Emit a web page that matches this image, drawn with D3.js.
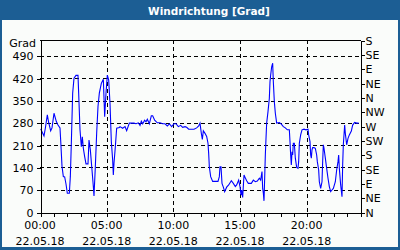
<!DOCTYPE html>
<html>
<head>
<meta charset="utf-8">
<script src="https://cdn.jsdelivr.net/npm/d3@7"></script>
<style>
body { margin: 0; }
svg { display: block; font-family: "DejaVu Sans", sans-serif; }
</style>
</head>
<body>
<div id="chart"></div>
<script>
// Messzeit in Stunden (22.05.18)
var stunden = [0.05,0.15,0.3,0.4,0.55,0.65,0.8,0.9,1.05,1.225,1.35,1.5,1.55,1.65,1.75,1.85,1.95,2.05,2.2,2.275,
    2.35,2.45,2.55,2.7,2.85,2.9,3.0,3.1,3.175,3.25,3.35,3.45,3.6,3.675,3.775,3.9,4.0,4.05,4.15,4.25,
    4.35,4.45,4.6,4.75,4.85,4.95,5.05,5.15,5.25,5.35,5.45,5.5,5.55,5.65,5.75,5.95,
    6.0,6.2,6.375,6.5,6.7,6.875,7.05,7.2,7.375,7.5,7.6,7.7,7.85,7.95,8.05,8.2,8.35,8.45,8.6,8.8,
    9.0,9.2,9.375,9.55,9.7,9.875,10.05,10.2,10.375,10.55,10.7,10.875,11.0,11.15,11.35,11.55,11.75,11.9,12.0,
    12.1,12.175,12.25,12.375,12.5,12.6,12.65,12.7,12.8,12.95,13.15,13.35,13.45,13.5,13.575,13.65,13.75,13.85,
    14.0,14.15,14.35,14.5,14.65,14.75,14.9,15.0,15.075,15.125,15.2,15.3,15.4,15.5,15.625,
    15.7,15.85,16.0,16.15,16.3,16.45,16.55,16.65,16.7,16.75,16.8,16.85,16.9,16.95,17.0,17.1,17.2,17.25,
    17.3,17.375,17.45,17.5,17.575,17.65,17.75,17.95,18.1,18.25,18.4,18.55,18.7,18.75,18.8,18.85,18.9,18.95,
    19.0,19.075,19.15,19.25,19.35,19.4,19.45,19.55,19.65,19.8,19.95,20.1,20.15,20.25,20.3,20.35,20.4,20.45,
    20.55,20.65,20.75,20.8,20.9,20.95,21.05,21.15,21.2,21.25,21.3,21.4,21.5,21.6,21.7,21.8,21.9,22.0,
    22.15,22.25,22.35,22.4,22.45,22.55,22.65,22.7,22.75,22.85,22.9,23.0,23.1,23.2,23.35,23.45,23.6,23.75,23.9];

// Windrichtung in Grad
var grad = [261,252,239,263,305,281,255,264,310,284,273,264,226,144,111,110,88,59,59,111,
    216,373,420,429,429,373,258,205,236,200,174,151,151,226,195,132,80,50,142,247,
    331,373,404,417,299,373,430,415,341,221,163,116,153,205,263,265,
    268,263,268,255,279,279,279,277,280,272,285,277,288,283,291,277,302,302,288,280,
    280,277,277,270,277,268,277,277,268,272,266,268,266,260,260,260,264,270,279,
    247,228,255,247,237,216,184,142,111,96,96,96,111,142,142,90,78,64,
    78,85,98,90,80,85,100,80,53,69,46,116,107,98,90,
    90,90,100,95,97,106,100,127,74,60,35,106,179,231,279,315,357,409,
    430,456,467,409,346,310,279,281,276,268,264,258,258,221,179,148,189,179,
    216,216,169,140,137,158,216,242,258,260,258,260,242,221,179,169,195,202,
    202,200,179,158,132,95,74,95,158,211,200,169,137,106,80,64,69,74,
    95,132,158,179,137,85,48,148,211,273,247,211,231,242,254,273,281,279,279];

var gradTicks = [0, 70, 140, 210, 280, 350, 420, 490];
var zeitTicks = [0, 5, 10, 15, 20];
var zeitLabels = ["00:00", "05:00", "10:00", "15:00", "20:00"];
var datumLabel = "22.05.18";
var richtungen = ["N","NE","E","SE","S","SW","W","NW","N","NE","E","SE","S"];

var width = 400,
    height = 250;
var pLeft = 40, pRight = 360, pTop = 40, pBottom = 212;

var svg = d3.select("#chart").append("svg")
    .attr("width", width)
    .attr("height", height);

// Rahmen und Titelleiste
svg.append("rect")
    .attr("width", width).attr("height", height)
    .attr("fill", "#1c5e94");
svg.append("rect")
    .attr("x", 2).attr("y", 20)
    .attr("width", width - 4).attr("height", height - 23)
    .attr("fill", "#fafcfa");
svg.append("text")
    .attr("x", 209).attr("y", 15)
    .attr("text-anchor", "middle")
    .attr("fill", "white")
    .style("font-weight", "bold")
    .style("font-size", "10.5px")
    .text("Windrichtung [Grad]");

var x = d3.scaleLinear().domain([0, 24]).range([pLeft, pRight]);
var y = d3.scaleLinear().domain([0, 540]).range([pBottom, pTop]);

// Gitter
var grid = svg.append("g")
    .attr("stroke", "black")
    .attr("stroke-dasharray", "4,3")
    .attr("shape-rendering", "crispEdges");
grid.selectAll("line.h")
    .data(gradTicks.filter(function(d) { return d > 0; }))
    .enter().append("line")
    .attr("class", "h")
    .attr("x1", pLeft).attr("x2", pRight)
    .attr("y1", function(d) { return Math.round(y(d)) + 0.5; })
    .attr("y2", function(d) { return Math.round(y(d)) + 0.5; });
grid.selectAll("line.v")
    .data(zeitTicks.filter(function(d) { return d > 0; }))
    .enter().append("line")
    .attr("class", "v")
    .attr("y1", pTop).attr("y2", pBottom)
    .attr("x1", function(d) { return Math.round(x(d)) + 0.5; })
    .attr("x2", function(d) { return Math.round(x(d)) + 0.5; });

// Messlinie
var line = d3.line()
    .x(function(d, i) { return x(stunden[i]); })
    .y(function(d) { return y(d); });

svg.append("path")
    .datum(grad)
    .attr("fill", "none")
    .attr("stroke", "#0000ff")
    .attr("stroke-width", 1.1)
    .attr("d", line);

// Achsen
var fontSize = "11px";

var yAxis = svg.append("g")
    .attr("transform", "translate(" + (pLeft + 0.5) + ",0.5)")
    .call(d3.axisLeft(y).tickValues(gradTicks).tickSize(4).tickSizeOuter(0).tickPadding(3));

var rAxis = svg.append("g")
    .attr("transform", "translate(" + (pRight + 0.5) + ",0.5)")
    .call(d3.axisRight(y).tickValues(d3.range(0, 541, 45)).tickSize(4).tickSizeOuter(0).tickPadding(1)
        .tickFormat(function(d, i) { return richtungen[i]; }));

var xAxis = svg.append("g")
    .attr("transform", "translate(0.5," + (pBottom + 0.5) + ")")
    .call(d3.axisBottom(x).tickValues(d3.range(0, 25, 1)).tickSize(4).tickSizeOuter(0)
        .tickFormat(""));

[yAxis, rAxis, xAxis].forEach(function(a) {
    a.attr("font-family", null).attr("font-size", fontSize)
        .attr("shape-rendering", "crispEdges");
    a.selectAll("text").attr("fill", "black");
});

// oberer Rand
svg.append("line")
    .attr("x1", pLeft).attr("x2", pRight + 1)
    .attr("y1", pTop + 0.5).attr("y2", pTop + 0.5)
    .attr("stroke", "black")
    .attr("shape-rendering", "crispEdges");

// Zeitbeschriftung
var xLabels = svg.append("g").style("font-size", fontSize).attr("text-anchor", "middle");
xLabels.selectAll("text.zeit")
    .data(zeitTicks)
    .enter().append("text")
    .attr("class", "zeit")
    .attr("x", function(d) { return x(d); })
    .attr("y", 229)
    .text(function(d, i) { return zeitLabels[i]; });
xLabels.selectAll("text.datum")
    .data(zeitTicks)
    .enter().append("text")
    .attr("class", "datum")
    .attr("x", function(d) { return x(d); })
    .attr("y", 245)
    .text(datumLabel);

svg.append("text")
    .attr("x", 36).attr("y", 47)
    .attr("text-anchor", "end")
    .style("font-size", fontSize)
    .text("Grad");
</script>
</body>
</html>
